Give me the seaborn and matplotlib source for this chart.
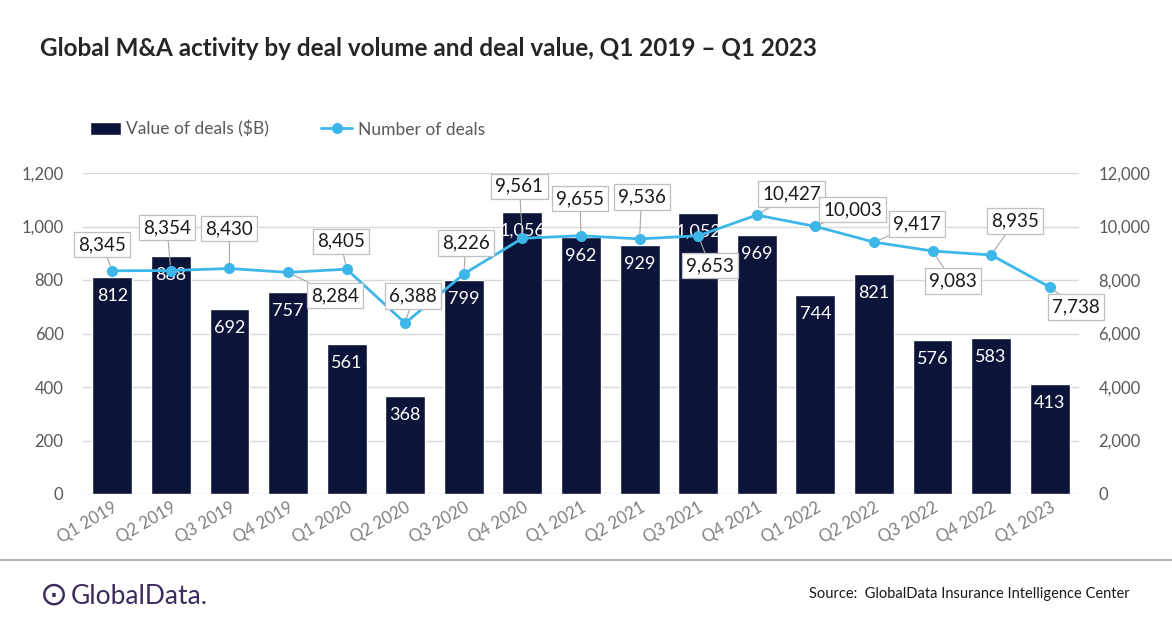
import numpy as np
import pandas as pd
import matplotlib
matplotlib.use("Agg")
import matplotlib.pyplot as plt
import seaborn as sns

quarters = ["Q1 2019", "Q2 2019", "Q3 2019", "Q4 2019", "Q1 2020", "Q2 2020",
            "Q3 2020", "Q4 2020", "Q1 2021", "Q2 2021", "Q3 2021", "Q4 2021",
            "Q1 2022", "Q2 2022", "Q3 2022", "Q4 2022", "Q1 2023"]
deal_value = [812, 888, 692, 757, 561, 368, 799, 1056, 962, 929, 1052, 969,
              744, 821, 576, 583, 413]
deal_count = [8345, 8354, 8430, 8284, 8405, 6388, 8226, 9561, 9655, 9536, 9653,
              10427, 10003, 9417, 9083, 8935, 7738]

# label box offsets from the points (pixels, up = positive)
label_offsets = [(-10, 26), (-4, 43), (0, 40), (47, -23), (-6, 28), (8, 27),
                 (2, 31), (-3, 52), (-1, 37), (2, 42), (12, -30), (35, 21),
                 (37, 17), (43, 18), (20, -30), (24, 34), (26, -20)]

df = pd.DataFrame({"quarter": quarters, "value": deal_value, "count": deal_count})

BAR = "#0C1539"
LINE = "#3DB7E9"
GREY = "#595959"

sns.set_theme(style="white")
plt.rcParams["font.family"] = ["Lato", "DejaVu Sans"]

fig = plt.figure(figsize=(11.72, 6.28), dpi=100)
ax = fig.add_axes([83 / 1172, 1 - 494 / 628, (1079 - 83) / 1172, (494 - 173) / 628])

sns.barplot(data=df, x="quarter", y="value", color=BAR, width=0.68,
            saturation=1, ax=ax, zorder=2, label="Value of deals ($B)")
ax.set_ylim(0, 1200)
ax.set_xlim(-0.5, len(quarters) - 0.5)
ax.set_yticks(range(0, 1201, 200))
ax.set_yticklabels([f"{v:,}" for v in range(0, 1201, 200)])
ax.grid(axis="y", color="#D9D9D9", lw=1, zorder=0)
ax.set_axisbelow(True)
for s in ax.spines.values():
    s.set_visible(False)
ax.set_xlabel("")
ax.set_ylabel("")
ax.tick_params(axis="y", length=0, labelsize=12, labelcolor=GREY, pad=14)
ax.tick_params(axis="x", length=0, labelsize=12, labelcolor="#7F7F7F", pad=4)
for t in ax.get_xticklabels():
    t.set_rotation(30)
    t.set_ha("right")
    t.set_rotation_mode("anchor")

for i, v in enumerate(deal_value):
    ax.annotate(f"{v:,}", (i, v), xytext=(0, -19), textcoords="offset pixels",
                ha="center", va="center", color="white", fontsize=13, zorder=3)

ax2 = ax.twinx()
sns.lineplot(x=np.arange(len(quarters)), y=deal_count, color=LINE, lw=2,
             marker="o", markersize=8, markeredgewidth=0, ax=ax2,
             label="Number of deals", zorder=4)
ax2.set_ylim(0, 12000)
ax2.set_yticks(range(0, 12001, 2000))
ax2.set_yticklabels([f"{v:,}" for v in range(0, 12001, 2000)])
ax2.tick_params(axis="y", length=0, labelsize=12, labelcolor=GREY, pad=14)
ax2.grid(False)
for s in ax2.spines.values():
    s.set_visible(False)
ax2.set_ylabel("")
ax2.get_legend().remove()

for i, (n, off) in enumerate(zip(deal_count, label_offsets)):
    ax2.annotate(f"{n:,}", (i, n), xytext=off, textcoords="offset pixels",
                 ha="center", va="center", fontsize=13.5, color="#1a1a1a",
                 bbox=dict(boxstyle="square,pad=0.22", fc="white", ec="#BFBFBF", lw=0.9),
                 arrowprops=dict(arrowstyle="-", color="#A6A6A6", lw=0.8,
                                 shrinkA=0, shrinkB=4),
                 zorder=5)

# legend
h1, l1 = ax.get_legend_handles_labels()
h2, l2 = ax2.get_legend_handles_labels()
ax.legend(h1 + h2, l1 + l2, loc="center left", bbox_to_anchor=(74 / 1172, 1 - 129 / 628),
          bbox_transform=fig.transFigure, ncol=2, frameon=False, fontsize=12.5,
          labelcolor=GREY, handlelength=1.8, columnspacing=3.0, handletextpad=0.3)

fig.text(40 / 1172, 1 - 48 / 628,
         "Global M&A activity by deal volume and deal value, Q1 2019 \u2013 Q1 2023",
         fontsize=17.5, fontweight="bold", color="#262626", va="center", ha="left")

fig.add_artist(plt.Line2D([0, 1], [1 - 560 / 628] * 2, color="#A6A6A6", lw=1.2))

fig.text(40 / 1172, 1 - 596 / 628, "\u2299", fontsize=24, color="#3B2A5C",
         va="center", ha="left")
fig.text(71 / 1172, 1 - 596 / 628, "GlobalData.", fontsize=19, color="#3B2A5C",
         va="center", ha="left")
fig.text(1130 / 1172, 1 - 594 / 628, "Source:  GlobalData Insurance Intelligence Center",
         fontsize=10.5, color="#1a1a1a", va="center", ha="right")

fig.savefig("out.png", dpi=100)
